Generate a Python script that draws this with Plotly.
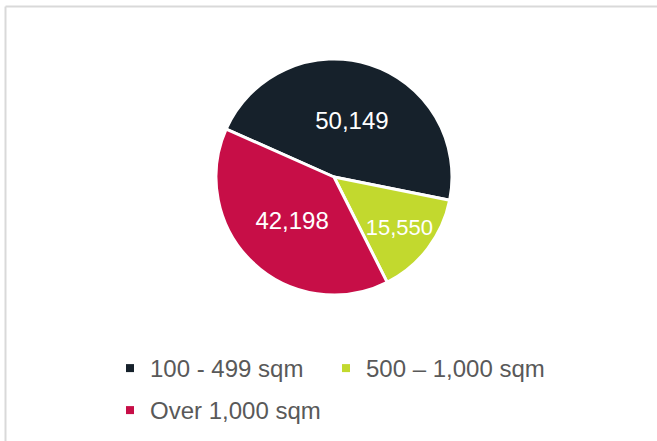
import plotly.graph_objects as go

# Floor-space bands and their counts
categories = ["100 - 499 sqm", "500 – 1,000 sqm", "Over 1,000 sqm"]
counts = [50149, 15550, 42198]
colors = ["#16212b", "#c2d92e", "#c70e47"]

fig = go.Figure()

fig.add_trace(go.Pie(
    labels=categories,
    values=counts,
    sort=False,
    direction="clockwise",
    rotation=294,
    marker=dict(colors=colors, line=dict(color="white", width=3)),
    texttemplate="%{value:,}",
    textposition="inside",
    insidetextorientation="horizontal",
    textfont=dict(family="Liberation Sans, Arial, sans-serif", size=24, color="white"),
    showlegend=False,
    hoverinfo="label+value",
))

# One legend box per entry: two on the first row, one on the second
legend_ids = ["legend", "legend2", "legend3"]
for name, col, lg in zip(categories, colors, legend_ids):
    fig.add_trace(go.Scatter(
        x=[None], y=[None], mode="markers", name=name,
        marker=dict(symbol="square", size=8, color=col),
        legend=lg, showlegend=True,
    ))

legend_font = dict(family="Liberation Sans, Arial, sans-serif", size=24, color="#595959")


def legend_box(left_px, top_px):
    return dict(
        orientation="h", xref="container", yref="container",
        x=left_px / 657, y=1 - top_px / 441, xanchor="left", yanchor="top",
        font=legend_font, bgcolor="rgba(0,0,0,0)",
    )


# Outer frame of the chart (its top and left edges)
frame = dict(color="#d9d9d9", width=2)
x_left = (5.5 - 11) / 646
y_top = (295 - 6.5) / 236

fig.update_layout(
    width=657, height=441,
    margin=dict(l=11, r=0, t=59, b=146),
    paper_bgcolor="white",
    plot_bgcolor="white",
    xaxis=dict(visible=False),
    yaxis=dict(visible=False),
    legend=legend_box(110, 346),
    legend2=legend_box(326, 346),
    legend3=legend_box(110, 388),
    shapes=[
        dict(type="line", xref="paper", yref="paper",
             x0=x_left, x1=x_left, y0=-1.0, y1=y_top, line=frame),
        dict(type="line", xref="paper", yref="paper",
             x0=x_left, x1=1.2, y0=y_top, y1=y_top, line=frame),
    ],
)

fig.write_html("out.html")
